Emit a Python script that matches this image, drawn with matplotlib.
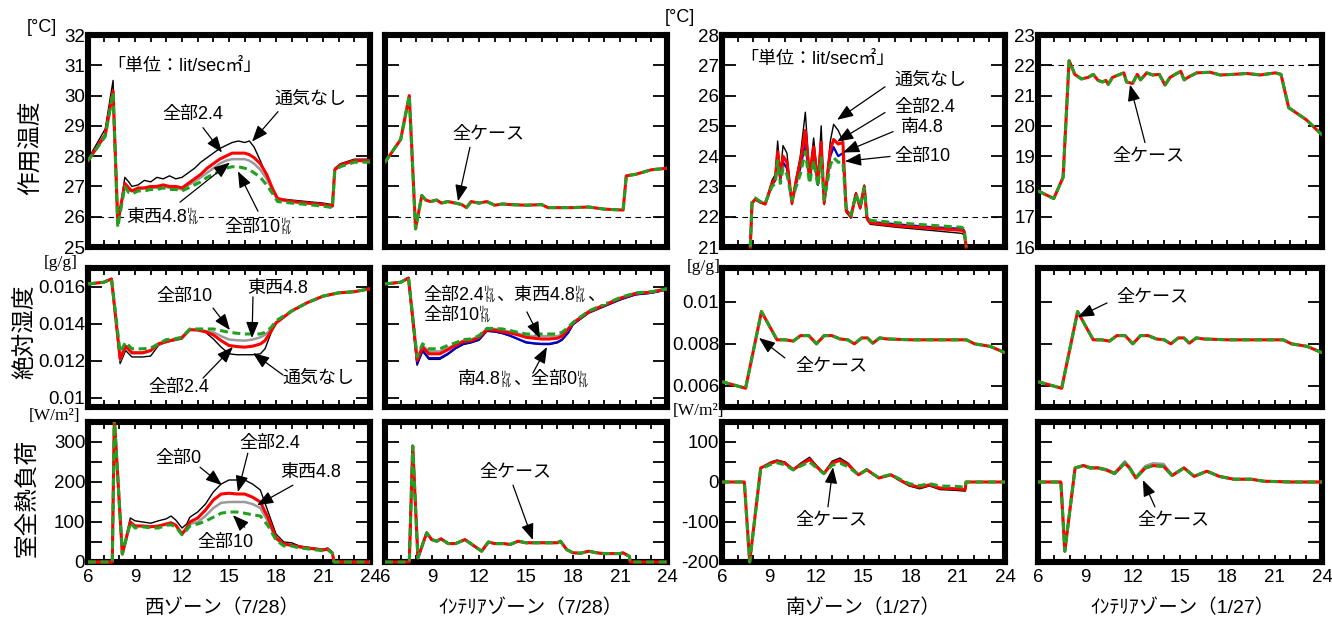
import matplotlib
matplotlib.use("Agg")
import matplotlib.pyplot as plt
from matplotlib.patches import Rectangle
from matplotlib.ticker import FixedLocator, FuncFormatter

plt.rcParams['font.family'] = ['Liberation Sans', 'Noto Sans CJK JP']

# ==========================================
# Data: operative temperature [C]
# ==========================================
# west zone 7/28
t_op_w = [6, 7.1, 7.6, 7.9, 8.35, 8.6, 8.8, 9.2, 9.6, 10.0, 10.4, 10.8, 11.2, 11.6, 12.0, 12.4,
          12.8, 13.2, 13.6, 14.0, 14.4, 14.8, 15.2, 15.6, 16.0, 16.3, 16.6, 17.0, 17.4, 17.8,
          18.1, 19, 20, 21, 21.6, 21.75, 22.1, 23, 24]
op_w_none = [27.9, 28.9, 30.5, 25.7, 27.3, 27.15, 27.0, 27.05, 27.2, 27.15, 27.3, 27.25, 27.35,
             27.25, 27.3, 27.45, 27.6, 27.8, 27.95, 28.1, 28.25, 28.35, 28.45, 28.5, 28.45, 28.5,
             28.3, 27.85, 27.35, 26.85, 26.6, 26.55, 26.5, 26.45, 26.4, 27.6, 27.75, 27.9, 27.9]
op_w_all24 = [27.85, 28.7, 30.15, 25.8, 27.1, 26.95, 26.85, 26.95, 26.95, 27.0, 27.0, 27.05, 27.0,
              27.0, 26.95, 27.1, 27.25, 27.4, 27.6, 27.75, 27.9, 28.0, 28.1, 28.1, 28.1, 28.05,
              27.95, 27.75, 27.4, 26.9, 26.6, 26.5, 26.45, 26.4, 26.35, 27.55, 27.7, 27.85, 27.85]
op_w_ew48 = [27.85, 28.7, 30.1, 25.75, 27.05, 26.9, 26.85, 26.9, 26.95, 26.95, 26.95, 27.0, 26.95,
             26.95, 26.9, 27.05, 27.15, 27.3, 27.45, 27.6, 27.75, 27.85, 27.9, 27.9, 27.9, 27.85,
             27.75, 27.55, 27.25, 26.85, 26.55, 26.5, 26.45, 26.4, 26.35, 27.55, 27.7, 27.85, 27.85]
op_w_all10 = [27.85, 28.65, 30.1, 25.65, 27.0, 26.8, 26.75, 26.85, 26.85, 26.9, 26.9, 26.95, 26.9,
              26.9, 26.85, 26.95, 27.05, 27.15, 27.3, 27.4, 27.5, 27.6, 27.65, 27.65, 27.6, 27.55,
              27.45, 27.3, 27.05, 26.75, 26.5, 26.45, 26.4, 26.35, 26.3, 27.5, 27.65, 27.8, 27.8]

# interior zone 7/28 (all cases)
t_op_i7 = [6, 7, 7.55, 7.95, 8.35, 8.6, 8.9, 9.3, 9.6, 10.0, 10.5, 10.9, 11.2, 11.5, 12.0, 12.5,
           13.0, 13.5, 14.0, 15.0, 16.0, 16.4, 17.0, 18.0, 19.0, 20.0, 21.2, 21.4, 22.0, 23.0, 24.0]
op_i7 = [27.8, 28.55, 30.0, 25.6, 26.7, 26.55, 26.5, 26.55, 26.45, 26.5, 26.45, 26.4, 26.3, 26.5,
         26.45, 26.5, 26.38, 26.42, 26.4, 26.38, 26.4, 26.3, 26.3, 26.3, 26.32, 26.25, 26.22, 27.35,
         27.4, 27.55, 27.6]

# south zone 1/27
t_op_s = [7.8, 7.91, 8.12, 8.44, 8.75, 9.18, 9.39, 9.54, 9.71, 9.88, 10.13, 10.45, 10.72, 10.98,
          11.3, 11.57, 11.83, 12.1, 12.31, 12.5, 12.89, 13.1, 13.39, 13.69, 13.9, 14.2, 14.52,
          14.79, 15.05, 15.22, 15.43, 17.12, 19.24, 21.25, 21.4, 21.53]
op_s_none = [21.0, 22.43, 22.56, 22.46, 22.4, 23.2, 23.4, 24.5, 23.4, 24.35, 24.1, 22.4, 23.3, 24.0,
             25.45, 23.4, 24.6, 23.2, 25.0, 22.4, 24.5, 25.05, 24.85, 24.5, 22.15, 21.95, 22.8,
             22.25, 23.05, 21.9, 21.75, 21.65, 21.55, 21.45, 21.4, 21.0]
op_s_all24 = [21.0, 22.45, 22.58, 22.48, 22.42, 23.1, 23.25, 24.15, 23.3, 24.0, 23.8, 22.45, 23.2,
              23.8, 24.85, 23.3, 24.3, 23.1, 24.45, 22.45, 24.2, 24.55, 24.4, 24.45, 22.2, 22.0,
              22.75, 22.3, 23.0, 21.95, 21.8, 21.7, 21.62, 21.55, 21.5, 21.0]
op_s_s48 = [21.0, 22.45, 22.58, 22.48, 22.42, 23.05, 23.2, 23.95, 23.2, 23.8, 23.6, 22.5, 23.1,
            23.6, 24.45, 23.2, 24.1, 23.05, 24.2, 22.5, 24.0, 24.3, 24.0, 24.1, 22.25, 22.0, 22.75,
            22.3, 23.0, 22.0, 21.83, 21.75, 21.66, 21.6, 21.55, 21.0]
op_s_all10 = [21.0, 22.5, 22.62, 22.5, 22.45, 23.0, 23.1, 23.85, 23.1, 23.6, 23.4, 22.55, 23.0,
              23.4, 24.15, 23.1, 23.85, 23.0, 23.95, 22.55, 23.7, 23.95, 23.8, 23.8, 22.3, 22.05,
              22.75, 22.35, 22.95, 22.05, 21.88, 21.8, 21.72, 21.65, 21.6, 21.0]

# interior zone 1/27 (all cases)
t_op_i1 = [6, 7.0, 7.59, 7.97, 8.06, 8.33, 8.75, 9.18, 9.5, 9.81, 10.09, 10.3, 10.45, 10.72, 11.19,
           11.44, 11.61, 11.99, 12.29, 12.5, 12.89, 13.27, 13.69, 14.05, 14.37, 14.69, 15.05,
           15.26, 15.6, 16.06, 16.91, 17.55, 18.39, 19.24, 20.09, 21.04, 21.4, 21.89, 23.01, 24.0]
op_i1 = [17.85, 17.6, 18.3, 22.15, 22.05, 21.7, 21.55, 21.6, 21.7, 21.5, 21.45, 21.5, 21.37, 21.6,
         21.7, 21.75, 21.45, 21.4, 21.7, 21.52, 21.75, 21.68, 21.7, 21.35, 21.6, 21.7, 21.8, 21.52,
         21.63, 21.75, 21.77, 21.68, 21.7, 21.73, 21.68, 21.75, 21.7, 20.6, 20.2, 19.7]

# ==========================================
# Data: absolute humidity [g/g]
# ==========================================
t_hum7 = [6, 7, 7.5, 8.05, 8.4, 8.8, 9.5, 10.0, 10.5, 11.0, 11.5, 12.0, 12.5, 13.0, 13.5, 14.0,
          14.5, 15.0, 15.5, 16.0, 16.5, 17.0, 17.3, 17.7, 18.0, 19, 20, 21, 22, 23, 24]
hum_w_none = [0.01614, 0.01623, 0.01641, 0.01184, 0.01255, 0.0122, 0.0122, 0.01225, 0.01282, 0.013,
              0.01308, 0.01317, 0.01365, 0.01365, 0.01353, 0.01317, 0.01273, 0.01237, 0.01232,
              0.01232, 0.01232, 0.01237, 0.01264, 0.01353, 0.01406, 0.01468, 0.01513, 0.01548,
              0.01566, 0.01572, 0.01588]
hum_w_all24 = [0.01614, 0.01623, 0.01641, 0.01211, 0.01278, 0.01243, 0.01243, 0.01255, 0.01291,
               0.01303, 0.01314, 0.01326, 0.01367, 0.01365, 0.01356, 0.01339, 0.01308, 0.01282,
               0.01276, 0.01273, 0.01278, 0.0129, 0.01308, 0.01361, 0.01403, 0.01468, 0.01513,
               0.01548, 0.01566, 0.01572, 0.01588]
hum_w_ew48 = [0.01614, 0.01623, 0.01641, 0.01205, 0.01275, 0.0124, 0.0124, 0.01252, 0.01288, 0.013,
              0.01312, 0.01324, 0.01367, 0.01367, 0.0136, 0.01353, 0.01332, 0.01314, 0.0131,
              0.01308, 0.01314, 0.01326, 0.01339, 0.01371, 0.01406, 0.01468, 0.01513, 0.01548,
              0.01566, 0.01572, 0.01588]
hum_w_all10 = [0.01614, 0.01623, 0.01641, 0.01246, 0.013, 0.01264, 0.01264, 0.01268, 0.01291,
               0.01314, 0.01317, 0.01326, 0.01371, 0.01371, 0.01371, 0.01371, 0.01362, 0.01353,
               0.01348, 0.01344, 0.01344, 0.01344, 0.01353, 0.0138, 0.01415, 0.01468, 0.01513,
               0.01548, 0.01566, 0.01572, 0.01588]

hum_i7_none = [0.01614, 0.01623, 0.01646, 0.01175, 0.0125, 0.01207, 0.01207, 0.01232, 0.01264,
               0.01287, 0.01296, 0.0131, 0.01358, 0.01355, 0.01346, 0.01332, 0.01314, 0.01296,
               0.01291, 0.01287, 0.01287, 0.01296, 0.0131, 0.01349, 0.01394, 0.01456, 0.01492,
               0.01527, 0.01556, 0.01564, 0.01582]
hum_i7_s48 = [0.01614, 0.01623, 0.01646, 0.01184, 0.01255, 0.01214, 0.01214, 0.01237, 0.01268,
              0.01291, 0.013, 0.01314, 0.01362, 0.01358, 0.01349, 0.01335, 0.01317, 0.013, 0.01294,
              0.01291, 0.01291, 0.013, 0.01314, 0.01353, 0.01397, 0.0146, 0.01495, 0.01531,
              0.01557, 0.01566, 0.01584]
hum_i7_ew48 = [0.01614, 0.01623, 0.01646, 0.01211, 0.01282, 0.0125, 0.0125, 0.01268, 0.01289,
               0.01308, 0.01314, 0.01332, 0.01371, 0.01371, 0.01364, 0.01356, 0.01346, 0.01335,
               0.01332, 0.01332, 0.01332, 0.01332, 0.01342, 0.01374, 0.01404, 0.01467, 0.01502,
               0.01538, 0.01564, 0.0157, 0.01588]
hum_i7_all24 = [0.01614, 0.01623, 0.01646, 0.01202, 0.01273, 0.01237, 0.01237, 0.01259, 0.01282,
                0.01303, 0.01308, 0.01326, 0.01367, 0.01365, 0.01356, 0.01349, 0.01339, 0.01326,
                0.01321, 0.01317, 0.01317, 0.01321, 0.01332, 0.01371, 0.01403, 0.01463, 0.015,
                0.01536, 0.01563, 0.0157, 0.01588]
hum_i7_all10 = [0.01614, 0.01623, 0.01646, 0.0122, 0.01291, 0.01264, 0.01264, 0.01282, 0.01296,
                0.01314, 0.01317, 0.01335, 0.01374, 0.01374, 0.01371, 0.01362, 0.01353, 0.01344,
                0.01344, 0.01344, 0.01344, 0.01344, 0.01353, 0.0138, 0.01406, 0.01468, 0.01504,
                0.0154, 0.01566, 0.01572, 0.01588]

# 1/27, south and interior zone look identical (all cases)
t_hum1 = [6, 7.5, 8.51, 9.5, 10.02, 10.53, 11.0, 11.52, 12.01, 12.5, 12.99, 13.51, 14.0, 14.42,
          14.89, 15.25, 15.59, 16.03, 16.5, 18.05, 21.54, 22.06, 23.05, 24.0]
hum_s1 = [0.0062, 0.00589, 0.00953, 0.00819, 0.00819, 0.00813, 0.00839, 0.00839, 0.008, 0.00839,
          0.00839, 0.00823, 0.00819, 0.008, 0.00828, 0.00828, 0.00803, 0.00828, 0.00823, 0.00819,
          0.00819, 0.008, 0.00788, 0.00758]
hum_i1 = [0.0062, 0.00589, 0.00953, 0.00819, 0.00819, 0.00813, 0.00839, 0.00839, 0.008, 0.00839,
          0.00839, 0.00823, 0.00819, 0.008, 0.00828, 0.00828, 0.00803, 0.00828, 0.00823, 0.00819,
          0.00819, 0.008, 0.00788, 0.00758]

# ==========================================
# Data: room total heat load [W/m2]
# ==========================================
t_load_w = [6, 7.55, 7.68, 8.19, 8.7, 9.0, 9.5, 10.0, 10.5, 11.0, 11.3, 11.6, 12.0, 12.3, 12.5, 13.0,
            13.5, 14.0, 14.5, 15.0, 15.5, 16.0, 16.5, 17.0, 17.5, 18.0, 18.5, 19.0, 19.5, 20.0,
            21.0, 21.3, 21.6, 21.7, 24]
load_w_none = [0, 0, 360, 20, 110, 103, 100, 97, 103, 108, 115, 105, 85, 95, 112, 125, 145, 175,
               195, 205, 205, 205, 195, 180, 125, 70, 50, 48, 40, 37, 32, 35, 25, 0, 0]
load_w_all24 = [0, 0, 360, 20, 100, 90, 90, 88, 90, 95, 98, 92, 70, 85, 100, 110, 130, 155, 170,
                172, 170, 170, 162, 150, 110, 60, 45, 42, 38, 35, 30, 32, 22, 0, 0]
load_w_ew48 = [0, 0, 360, 20, 100, 90, 90, 88, 90, 95, 98, 92, 70, 82, 95, 100, 115, 135, 148, 150,
               150, 150, 145, 135, 100, 58, 44, 41, 37, 34, 30, 32, 22, 0, 0]
load_w_all10 = [0, 0, 360, 20, 98, 85, 88, 85, 85, 92, 93, 88, 68, 80, 90, 95, 102, 112, 122, 125,
                125, 122, 118, 115, 90, 55, 40, 40, 35, 33, 28, 30, 22, 0, 0]

t_load_i7 = [6, 7.55, 7.77, 8.1, 8.66, 8.98, 9.3, 9.57, 10.04, 10.5, 11.1, 11.4, 12.17, 12.6, 13.0,
             13.55, 14.0, 14.5, 15.0, 16.0, 17.0, 17.2, 17.6, 18.0, 18.5, 19.0, 19.5, 20.0, 21.0,
             21.2, 21.6, 21.65, 24]
load_i7 = [0, 0, 290, 10, 73, 56, 52, 58, 46, 46, 56, 48, 27, 50, 46, 46, 44, 52, 48, 48, 48, 52,
           31, 23, 22, 27, 23, 21, 21, 23, 14, 0, 0]

t_load_s = [6, 7.42, 7.76, 8.46, 9.1, 9.5, 10.0, 10.53, 11.0, 11.57, 12.0, 12.48, 13.0, 13.5, 14.03,
            14.68, 15.2, 15.97, 16.75, 17.27, 17.9, 18.57, 19.2, 19.86, 20.9, 21.47, 21.52, 24]
load_s_none = [0, 0, -200, 35, 50, 55, 50, 32, 47, 62, 42, 22, 52, 60, 47, 18, 32, 9, 17, 4, -10,
               -17, -10, -19, -21, -23, 0, 0]
load_s_all24 = [0, 0, -200, 35, 47, 52, 47, 31, 43, 56, 39, 21, 47, 54, 43, 18, 31, 10, 18, 6, -7,
                -13, -7, -15, -17, -19, 0, 0]
load_s_all10 = [0, 0, -200, 33, 44, 48, 43, 30, 40, 50, 36, 21, 42, 47, 38, 18, 30, 11, 19, 8, -4,
                -9, -4, -10, -11, -13, 0, 0]

t_load_i1 = [6, 7.45, 7.7, 8.35, 8.88, 9.3, 9.8, 10.33, 10.85, 11.5, 11.8, 12.2, 12.8, 13.3, 13.96,
             14.5, 15.25, 15.9, 16.7, 17.5, 18.4, 19.5, 20.3, 22.0, 24]
load_i1 = [0, 0, -173, 35, 41, 35, 35, 30, 21, 47, 35, 10, 35, 41, 39, 16, 35, 14, 27, 14, 7, 7, 2,
           0, 0]
load_i1_ew48 = [0, 0, -173, 35, 42, 37, 37, 32, 23, 52, 38, 12, 40, 47, 45, 18, 36, 15, 27, 14, 7,
                7, 2, 0, 0]

# ==========================================
# Styles and layout
# ==========================================
STYLE = {
    'black': dict(color='black', lw=1.0),
    'blue': dict(color='#0000cc', lw=1.6),
    'gray': dict(color='#9a9a9a', lw=1.8),
    'red': dict(color='#ff0000', lw=2.2),
    'green': dict(color='#22a022', lw=2.2, dashes=(2.6, 1.5)),
}

W, H = 1332, 619
fig = plt.figure(figsize=(W / 100, H / 100), dpi=100)

col_left = [88, 385, 722, 1038]
col_width = [282, 282, 283, 284]
row_top = [35, 268, 422]
row_bot = [247, 407, 562]


def make_axes(c, r):
    return fig.add_axes([col_left[c] / W, 1 - row_bot[r] / H,
                         col_width[c] / W, (row_bot[r] - row_top[r]) / H])


def setup(ax, ylim, yticks, ylab=True, xlab=False, ylabel_step=None):
    ax.set_xlim(6, 24)
    ax.set_ylim(*ylim)
    ax.xaxis.set_major_locator(FixedLocator(list(range(6, 25))))
    ax.yaxis.set_major_locator(FixedLocator(yticks))
    if xlab:
        ax.xaxis.set_major_formatter(FuncFormatter(lambda v, p: '%d' % v if round(v) % 3 == 0 else ''))
    else:
        ax.set_xticklabels([])
    if ylab:
        if ylabel_step:
            ax.yaxis.set_major_formatter(FuncFormatter(
                lambda v, p: '%g' % v if round(v) % ylabel_step == 0 else ''))
        else:
            ax.yaxis.set_major_formatter(FuncFormatter(lambda v, p: '%g' % round(v, 5)))
    else:
        ax.set_yticklabels([])
    ax.tick_params(axis='both', direction='in', top=True, right=True, width=1.3,
                   labelsize=13.5, colors='black')
    ax.tick_params(axis='x', length=5, pad=5)
    ax.tick_params(axis='y', length=10, pad=2)
    for sp in ax.spines.values():
        sp.set_linewidth(4.4)


def draw(ax, t, series):
    # lines sit above the thick frame, like in the original; clip only a bit below the box
    clip = Rectangle((0, -0.04), 1, 1.04, transform=ax.transAxes, fill=False)
    for key, vals in series:
        line, = ax.plot(t, vals, zorder=3, **STYLE[key])
        line.set_clip_path(clip)


def arrow(ax, tail, tip):
    ax.annotate('', xy=tip, xytext=tail,
                arrowprops=dict(arrowstyle='-|>,head_length=0.9,head_width=0.35', color='black',
                                lw=0.9, mutation_scale=11, shrinkA=0, shrinkB=0), zorder=4)


def note(ax, x, y, s, size=13, ha='center', white=False):
    kw = dict(bbox=dict(fc='white', ec='none', pad=1)) if white else {}
    ax.text(x, y, s, fontsize=size, ha=ha, va='center', zorder=5, **kw)


renderer = fig.canvas.get_renderer()


def rich(ax, x, y, parts, size=13, white=False):
    # main text followed by small stacked "ﾘｯ/ﾄﾙ"
    off = 0.0
    for s, small in parts:
        kw = dict(bbox=dict(fc='white', ec='none', pad=0.5)) if white else {}
        t = ax.annotate(s, (x, y), xytext=(off, 0), textcoords='offset pixels',
                        fontsize=8 if small else size, linespacing=0.85,
                        ha='left', va='center', zorder=5, **kw)
        off += t.get_window_extent(renderer).width + (1 if small else 0)


LIT = 'ﾘｯ\nﾄﾙ'

# ---------------- row 1: operative temperature ----------------
ax = make_axes(0, 0)
setup(ax, (25, 32), list(range(25, 33)))
ax.axhline(26, color='black', lw=0.8, ls=(0, (5, 4)))
draw(ax, t_op_w, [('black', op_w_none), ('gray', op_w_ew48), ('red', op_w_all24),
                  ('green', op_w_all10)])
note(ax, 7.2, 30.95, '「単位：lit/sec㎡」', ha='left')
note(ax, 20.17, 29.86, '通気なし')
arrow(ax, (18.13, 29.47), (16.47, 28.48))
note(ax, 12.7, 29.37, '全部2.4')
arrow(ax, (13.34, 28.94), (14.55, 28.12))
rich(ax, 8.45, 25.99, [('東西4.8', False), (LIT, True)], white=True)
arrow(ax, (11.87, 26.48), (15.06, 27.79))
rich(ax, 14.7, 25.66, [('全部10', False), (LIT, True)], white=True)
arrow(ax, (16.85, 26.18), (15.57, 27.5))

ax = make_axes(1, 0)
setup(ax, (25, 32), list(range(25, 33)), ylab=False)
ax.axhline(26, color='black', lw=0.8, ls=(0, (5, 4)))
draw(ax, t_op_i7, [('black', op_i7), ('red', op_i7), ('green', op_i7)])
note(ax, 12.57, 28.71, '全ケース')
arrow(ax, (11.42, 28.29), (10.66, 26.51))

ax = make_axes(2, 0)
setup(ax, (21, 28), list(range(21, 29)))
ax.axhline(22, color='black', lw=0.8, ls=(0, (5, 4)))
draw(ax, t_op_s, [('black', op_s_none), ('blue', op_s_s48), ('red', op_s_all24),
                  ('green', op_s_all10)])
note(ax, 7.15, 27.18, '「単位：lit/sec㎡」', ha='left')
note(ax, 19.23, 26.52, '通気なし')
arrow(ax, (16.37, 26.29), (13.32, 25.2))
note(ax, 18.91, 25.6, '全部2.4')
arrow(ax, (16.37, 25.44), (13.32, 24.48))
note(ax, 18.72, 24.94, '南4.8')
arrow(ax, (16.88, 24.81), (13.7, 24.12))
note(ax, 18.72, 23.99, '全部10')
arrow(ax, (16.69, 23.99), (13.82, 23.83))

ax = make_axes(3, 0)
setup(ax, (16, 23), list(range(16, 24)))
ax.axhline(22, color='black', lw=0.8, ls=(0, (5, 4)))
draw(ax, t_op_i1, [('black', op_i1), ('red', op_i1), ('green', op_i1)])
note(ax, 12.97, 18.99, '全ケース')
arrow(ax, (12.78, 19.45), (11.83, 21.36))

# ---------------- row 2: absolute humidity ----------------
hum_ticks_7 = [0.01, 0.012, 0.014, 0.016]
hum_ticks_1 = [0.006, 0.008, 0.01]

ax = make_axes(0, 1)
setup(ax, (0.0095, 0.017), hum_ticks_7)
draw(ax, t_hum7, [('black', hum_w_none), ('gray', hum_w_ew48), ('red', hum_w_all24),
                  ('green', hum_w_all10)])
note(ax, 12.13, 0.01544, '全部10')
arrow(ax, (13.98, 0.01484), (15.06, 0.01365))
note(ax, 18.12, 0.01592, '東西4.8')
arrow(ax, (16.53, 0.01544), (16.47, 0.01322))
note(ax, 11.8, 0.01058, '全部2.4')
arrow(ax, (13.34, 0.01106), (15.25, 0.01274))
note(ax, 20.68, 0.01106, '通気なし')
arrow(ax, (18.44, 0.01123), (16.53, 0.01241))

ax = make_axes(1, 1)
setup(ax, (0.0095, 0.017), hum_ticks_7, ylab=False)
draw(ax, t_hum7, [('black', hum_i7_none), ('blue', hum_i7_s48), ('gray', hum_i7_ew48),
                  ('red', hum_i7_all24), ('green', hum_i7_all10)])
rich(ax, 8.43, 0.01554, [('全部2.4', False), (LIT, True), ('、東西4.8', False), (LIT, True),
                         ('、', False)], white=True)
rich(ax, 8.43, 0.01446, [('全部10', False), (LIT, True)], white=True)
arrow(ax, (15.06, 0.01463), (15.89, 0.01322))
rich(ax, 10.66, 0.01096, [('南4.8', False), (LIT, True), ('、全部0', False), (LIT, True)])
arrow(ax, (15.44, 0.01133), (16.34, 0.01274))

ax = make_axes(2, 1)
setup(ax, (0.005, 0.0116), hum_ticks_1)
draw(ax, t_hum1, [('black', hum_s1), ('red', hum_s1), ('green', hum_s1)])
note(ax, 12.93, 0.0069, '全ケース')
arrow(ax, (10.0, 0.00733), (8.35, 0.00828))

ax = make_axes(3, 1)
setup(ax, (0.005, 0.0116), hum_ticks_1, ylab=False)
draw(ax, t_hum1, [('black', hum_i1), ('red', hum_i1), ('green', hum_i1)])
note(ax, 13.22, 0.01022, '全ケース')
arrow(ax, (10.37, 0.00994), (8.53, 0.00927))

# ---------------- row 3: room total heat load ----------------
ax = make_axes(0, 2)
setup(ax, (0, 350), list(range(0, 351, 50)), xlab=True, ylabel_step=100)
draw(ax, t_load_w, [('black', load_w_none), ('gray', load_w_ew48), ('red', load_w_all24),
                    ('green', load_w_all10)])
note(ax, 11.8, 260, '全部0')
arrow(ax, (13.15, 237), (14.55, 192))
note(ax, 17.6, 297, '全部2.4')
arrow(ax, (16.2, 272), (15.57, 175))
note(ax, 20.2, 225, '東西4.8')
arrow(ax, (19.08, 192), (16.79, 142))
note(ax, 14.8, 50, '全部10')
arrow(ax, (16.0, 87), (15.25, 117))

ax = make_axes(1, 2)
setup(ax, (0, 350), list(range(0, 351, 50)), ylab=False, xlab=True)
draw(ax, t_load_i7, [('black', load_i7), ('blue', load_i7), ('red', load_i7),
                     ('green', load_i7)])
note(ax, 14.3, 225, '全ケース')
arrow(ax, (14.17, 192), (15.44, 55))

ax = make_axes(2, 2)
setup(ax, (-200, 150), list(range(-200, 151, 50)), xlab=True, ylabel_step=100)
draw(ax, t_load_s, [('black', load_s_none), ('red', load_s_all24), ('green', load_s_all10)])
note(ax, 12.93, -95, '全ケース')
arrow(ax, (12.74, -62), (13.06, 37))

ax = make_axes(3, 2)
setup(ax, (-200, 150), list(range(-200, 151, 50)), ylab=False, xlab=True)
draw(ax, t_load_i1, [('black', load_i1), ('gray', load_i1_ew48), ('red', load_i1),
                     ('green', load_i1)])
note(ax, 14.55, -95, '全ケース')
arrow(ax, (13.41, -62), (12.65, 5))

# ---------------- labels outside the axes ----------------
def ftext(x, y, s, **kw):
    fig.text(x / W, 1 - y / H, s, ha='center', va='center', zorder=10, **kw)


ftext(32, 148, '作用温度', fontsize=17, rotation=90)
ftext(26, 332, '絶対湿度', fontsize=17, rotation=90)
ftext(28, 498, '室全熱負荷', fontsize=17, rotation=90)

ftext(42, 28, '[°C]', fontsize=13)
ftext(680, 17, '[°C]', fontsize=13)
ftext(61, 263, '[g/g]', fontsize=12.5, family='Liberation Serif')
ftext(704, 267, '[g/g]', fontsize=12.5, family='Liberation Serif')
ftext(54, 416, '[W/m²]', fontsize=12.5, family='Liberation Serif')
ftext(698, 411, '[W/m²]', fontsize=12.5, family='Liberation Serif')

ftext(222, 608, '西ゾーン（7/28）', fontsize=14)
ftext(530, 608, 'ｲﾝﾃﾘｱゾーン（7/28）', fontsize=14)
ftext(863, 608, '南ゾーン（1/27）', fontsize=14)
ftext(1182, 608, 'ｲﾝﾃﾘｱゾーン（1/27）', fontsize=14)

fig.savefig('out.png', dpi=100)
